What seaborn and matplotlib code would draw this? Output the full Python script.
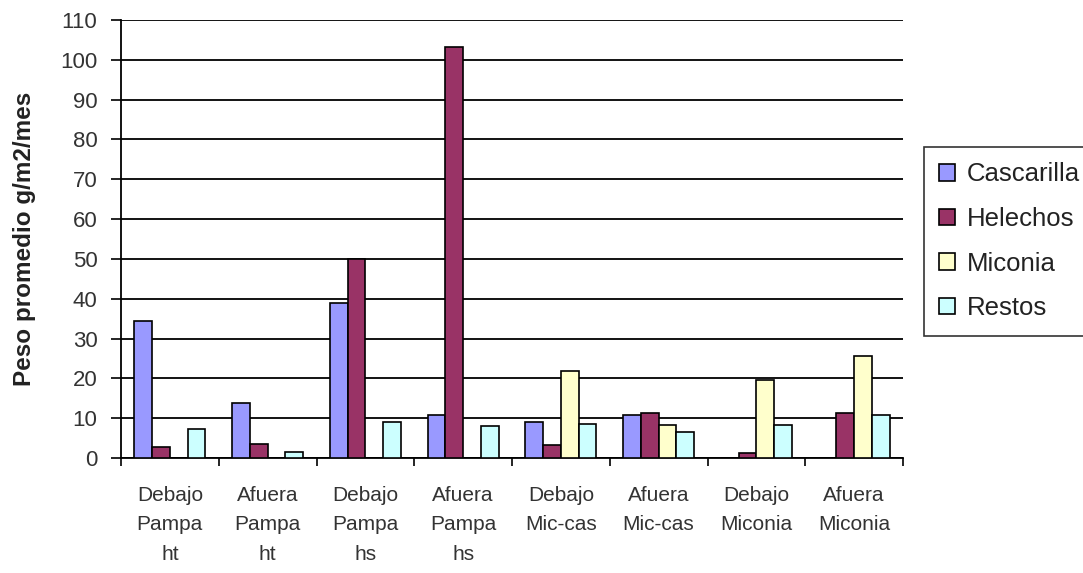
import numpy as np
import pandas as pd
import matplotlib
matplotlib.use("Agg")
import matplotlib.pyplot as plt
import seaborn as sns

# Litter weight per site and component
sites = ["Debajo\nPampa\nht", "Afuera\nPampa\nht", "Debajo\nPampa\nhs", "Afuera\nPampa\nhs",
         "Debajo\nMic-cas", "Afuera\nMic-cas", "Debajo\nMiconia", "Afuera\nMiconia"]
components = ["Cascarilla", "Helechos", "Miconia", "Restos"]
cascarilla = [34.5, 13.7, 39.0, 10.7, 9.1, 10.7, 0.0, 0.0]
helechos = [2.7, 3.4, 50.0, 103.2, 3.2, 11.2, 1.2, 11.2]
miconia = [0.0, 0.0, 0.0, 0.0, 21.8, 8.2, 19.6, 25.7]
restos = [7.2, 1.6, 9.1, 8.0, 8.6, 6.5, 8.2, 10.7]
palette = ["#9999FF", "#993366", "#FFFFCC", "#CCFFFF"]

values = {"Cascarilla": cascarilla, "Helechos": helechos, "Miconia": miconia, "Restos": restos}
df = pd.DataFrame([
    {"sitio": s, "componente": c, "peso": values[c][i]}
    for i, s in enumerate(sites) for c in components
])

sns.set_theme(style="white")
plt.rcParams["font.family"] = ["Liberation Sans", "DejaVu Sans"]

fig = plt.figure(figsize=(10.83, 5.73), dpi=100)
ax = fig.add_axes([121 / 1083, 1 - 458 / 573, (903 - 121) / 1083, (458 - 20) / 573])

sns.barplot(data=df, x="sitio", y="peso", hue="componente", hue_order=components,
            palette=palette, width=0.725, edgecolor="black", linewidth=1.2,
            saturation=1, ax=ax, legend=True, zorder=3)

ax.set_ylim(0, 110)
ax.set_xlim(-0.5, len(sites) - 0.5)
ax.set_yticks(np.arange(0, 111, 10))
ax.yaxis.grid(True, color="black", linewidth=1.3, zorder=0)
ax.set_axisbelow(True)
for side in ["top", "right"]:
    ax.spines[side].set_visible(False)
for side in ["left", "bottom"]:
    ax.spines[side].set_color("black")
    ax.spines[side].set_linewidth(1.3)

ax.tick_params(axis="y", which="both", left=True, length=7, width=1.2, color="black",
               labelsize=16, labelcolor="#333333", pad=10)
ax.set_xticks(np.arange(len(sites)))
ax.set_xticklabels(sites, fontsize=15, color="#333333", linespacing=1.7)
ax.tick_params(axis="x", which="major", length=0, pad=20)
ax.set_xticks(np.arange(-0.5, len(sites), 1), minor=True)
ax.tick_params(axis="x", which="minor", bottom=True, length=6, width=1.2, color="black")

ax.set_xlabel("")
ax.set_ylabel("Peso promedio g/m2/mes", fontsize=17.5, fontweight="bold", color="#222222")
ax.yaxis.set_label_coords(36 / 1083, 1 - 239 / 573, transform=fig.transFigure)

leg = ax.legend(loc="upper left", bbox_to_anchor=(924 / 1083, 1 - 147 / 573),
                bbox_transform=fig.transFigure, frameon=True, fontsize=18.5,
                handlelength=0.6, handleheight=0.6, handletextpad=0.45,
                labelspacing=0.8, borderpad=0.6, borderaxespad=0, fancybox=False)
leg.get_frame().set_edgecolor("black")
leg.get_frame().set_linewidth(1.2)
for t in leg.get_texts():
    t.set_color("#222222")

fig.savefig("out.png", dpi=100)
